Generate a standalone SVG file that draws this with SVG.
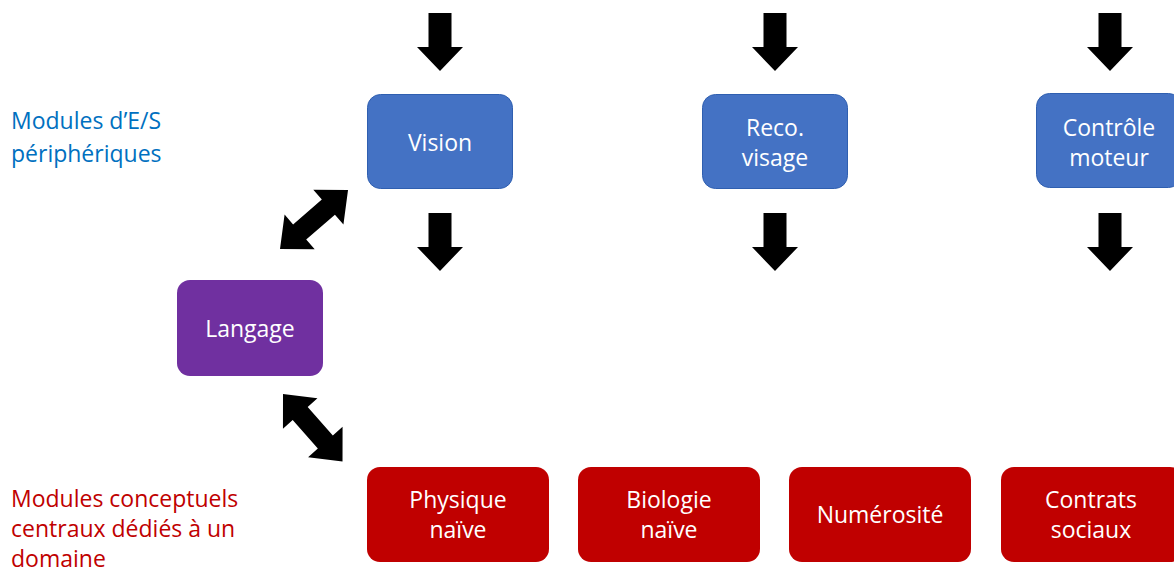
<svg xmlns="http://www.w3.org/2000/svg" width="1174" height="570" viewBox="0 0 1174 570">
<style>
.t{font-family:"Open Sans","Liberation Sans",sans-serif;font-size:23px;fill:#fff;text-anchor:middle}
.lbl{font-family:"Open Sans","Liberation Sans",sans-serif;font-size:23px}
.blue{fill:#4472C4;stroke:#2F5FB0;stroke-width:1}
.purple{fill:#7030A0}
.red{fill:#C00000}
.arr{fill:#000}
</style>
<defs>
<polygon id="down" points="-11.5,0 11.5,0 11.5,34 23,34 0,58 -23,34 -11.5,34"/>
<polygon id="dbl" points="0,0 26,-23 26,-10 64,-10 64,-23 90,0 64,23 64,10 26,10 26,23"/>
</defs>
<rect width="1174" height="570" fill="#fff"/>
<text class="lbl" fill="#0070C0" x="11" y="129">Modules d’E/S</text>
<text class="lbl" fill="#0070C0" x="11" y="162">périphériques</text>
<text class="lbl" fill="#C00000" x="11" y="507">Modules conceptuels</text>
<text class="lbl" fill="#C00000" x="11" y="537">centraux dédiés à un</text>
<text class="lbl" fill="#C00000" x="11" y="567">domaine</text>
<g id="connectors" class="arr">
<use href="#down" x="440" y="13"/>
<use href="#down" x="775" y="13"/>
<use href="#down" x="1110" y="13"/>
<use href="#down" x="440" y="213"/>
<use href="#down" x="775" y="213"/>
<use href="#down" x="1110" y="213"/>
<use href="#dbl" transform="translate(280,249) rotate(-40.9)"/>
<use href="#dbl" transform="translate(283,394) rotate(48.6)"/>
</g>
<g id="vision"><rect class="blue" x="367.5" y="94.5" width="145" height="94" rx="13"/><text class="t" x="440" y="151">Vision</text></g>
<g id="reco"><rect class="blue" x="702.5" y="94.5" width="145" height="94" rx="13"/><text class="t" x="775" y="136">Reco.</text><text class="t" x="775" y="166">visage</text></g>
<g id="controle"><rect class="blue" x="1036.5" y="93.5" width="145" height="94" rx="13"/><text class="t" x="1109" y="136">Contrôle</text><text class="t" x="1109" y="166">moteur</text></g>
<g id="langage"><rect class="purple" x="177" y="280" width="146" height="96" rx="13"/><text class="t" x="250" y="337">Langage</text></g>
<g id="physique"><rect class="red" x="367" y="467" width="182" height="95" rx="13"/><text class="t" x="458" y="508">Physique</text><text class="t" x="458" y="538">naïve</text></g>
<g id="biologie"><rect class="red" x="578" y="467" width="182" height="95" rx="13"/><text class="t" x="669" y="508">Biologie</text><text class="t" x="669" y="538">naïve</text></g>
<g id="numerosite"><rect class="red" x="789" y="467" width="182" height="95" rx="13"/><text class="t" x="880" y="523">Numérosité</text></g>
<g id="contrats"><rect class="red" x="1001" y="467" width="182" height="95" rx="13"/><text class="t" x="1091" y="508">Contrats</text><text class="t" x="1091" y="538">sociaux</text></g>
</svg>
